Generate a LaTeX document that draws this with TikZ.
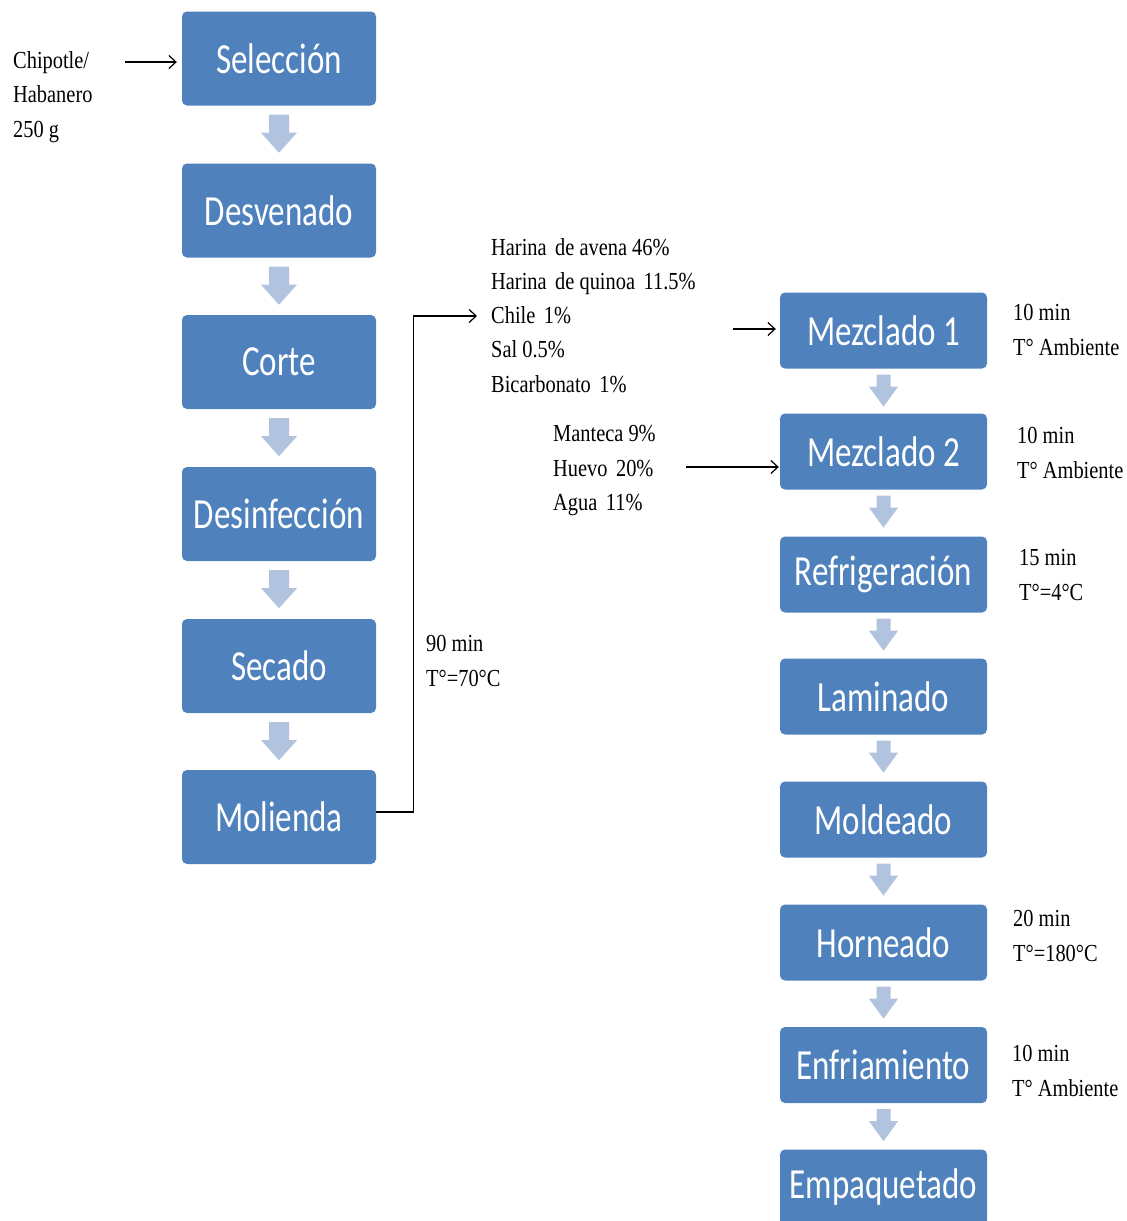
\documentclass[tikz,border=0pt]{standalone}
\usepackage{fontspec}
\setmainfont{Liberation Serif}
\newfontfamily\boxfont{Carlito}
\usetikzlibrary{arrows.meta,calc}
\definecolor{stepblue}{HTML}{4F81BD}
\definecolor{flowtint}{HTML}{B1C3DF}
\tikzset{
  stepbox/.style={fill=stepblue, rounded corners=5pt, text=white,
    font=\boxfont\fontsize{33}{40}\selectfont, inner sep=0pt},
  leftbox/.style={stepbox, minimum width=194pt, minimum height=94pt},
  rightbox/.style={stepbox, minimum width=207pt, minimum height=76pt},
  note/.style={anchor=base west, inner sep=0pt, font=\fontsize{20.4}{25}\selectfont},
  feed/.style={line width=1.2pt, -{Straight Barb[length=7pt,width=13pt]}},
}
\newcommand\boxtext[1]{\scalebox{1}[1.3]{#1}}
\newcommand\notetext[1]{\scalebox{1}[1.2]{#1}}
% block arrow below a step: node, half shaft, half head, gap, shaft length, head length
\newcommand\flowdown[6]{%
  \fill[flowtint] ($(#1.south)+(-#2,#4)$) -- ++(2*#2,0) -- ++(0,#5)
    -- ++(#3-#2,0) -- ++(-#3,#6) -- ++(-#3,-#6) -- ++(#3-#2,0) -- cycle;}

\begin{document}
\begin{tikzpicture}[x=1pt,y=-1pt]
\useasboundingbox (0,0) rectangle (1127,1221);

% preparation of the chile
\node[leftbox] (sel) at (279,58.5)  {\boxtext{Selección}};
\node[leftbox] (des) at (279,210.5) {\boxtext{Desvenado}};
\node[leftbox] (cor) at (279,362)   {\boxtext{Corte}};
\node[leftbox] (dsf) at (279,514)   {\boxtext{Desinfección}};
\node[leftbox] (sec) at (279,666)   {\boxtext{Secado}};
\node[leftbox] (mol) at (279,817)   {\boxtext{Molienda}};

\foreach \n in {sel,des,cor,dsf,sec}{\flowdown{\n}{10}{18}{9}{18}{20}}

% dough and baking
\node[rightbox] (m1)  at (883.5,330.5)  {\boxtext{Mezclado 1}};
\node[rightbox] (m2)  at (883.5,451.5)  {\boxtext{Mezclado 2}};
\node[rightbox] (ref) at (883.5,574.5)  {\boxtext{Refrigeración}};
\node[rightbox] (lam) at (883.5,696.5)  {\boxtext{Laminado}};
\node[rightbox] (mld) at (883.5,819.5)  {\boxtext{Moldeado}};
\node[rightbox] (hor) at (883.5,942.5)  {\boxtext{Horneado}};
\node[rightbox] (enf) at (883.5,1065)   {\boxtext{Enfriamiento}};
\node[rightbox] (emp) at (883.5,1187.5) {\boxtext{Empaquetado}};

\foreach \n in {m1,m2,ref,lam,mld,hor,enf}{\flowdown{\n}{7}{14.5}{6}{12}{20}}

% raw material
\node[note] (chip1) at (13,68)    {\notetext{Chipotle/}};
\node[note] (chip2) at (13,102.5) {\notetext{Habanero}};
\node[note] (chip3) at (13,137)   {\notetext{250 g}};
\coordinate (chipout) at (125,62);
\draw[feed, shorten >=5pt] (chipout) -- (chipout -| sel.west);

% dry ingredients
\node[note] (ing1) at (491,255)   {\notetext{Harina\, de avena 46\%}};
\node[note] (ing2) at (491,289.3) {\notetext{Harina\, de quinoa\, 11.5\%}};
\node[note] (ing3) at (491,323.6) {\notetext{Chile\, 1\%}};
\node[note] (ing4) at (491,357.9) {\notetext{Sal 0.5\%}};
\node[note] (ing5) at (491,392.2) {\notetext{Bicarbonato\, 1\%}};
\coordinate (ingin) at (477,316);
\draw[feed] ($(mol.east)+(0,-5)$) -- ++(37,0) |- (ingin);
\coordinate (mixin1) at (733,329);
\draw[feed, shorten >=4pt] (mixin1) -- (mixin1 -| m1.west);

% wet ingredients
\node[note] (wet1) at (553,441.7) {\notetext{Manteca 9\%}};
\node[note] (wet2) at (553,476)   {\notetext{Huevo\, 20\%}};
\node[note] (wet3) at (553,510.3) {\notetext{Agua\, 11\%}};
\coordinate (mixin2) at (686,467);
\draw[feed, shorten >=1pt] (mixin2) -- (mixin2 -| m2.west);

% process conditions
\node[note] (c1a) at (426,651.7)  {\notetext{90 min}};
\node[note] (c1b) at (426,686.7)  {\notetext{T°=70°C}};
\node[note] (c2a) at (1013,320)   {\notetext{10 min}};
\node[note] (c2b) at (1013,355)   {\notetext{T° Ambiente}};
\node[note] (c3a) at (1017,443.3) {\notetext{10 min}};
\node[note] (c3b) at (1017,478.3) {\notetext{T° Ambiente}};
\node[note] (c4a) at (1019,565)   {\notetext{15 min}};
\node[note] (c4b) at (1019,600)   {\notetext{T°=4°C}};
\node[note] (c5a) at (1013,926.7) {\notetext{20 min}};
\node[note] (c5b) at (1013,961.7) {\notetext{T°=180°C}};
\node[note] (c6a) at (1012,1061.7){\notetext{10 min}};
\node[note] (c6b) at (1012,1096.7){\notetext{T° Ambiente}};
\end{tikzpicture}
\end{document}
